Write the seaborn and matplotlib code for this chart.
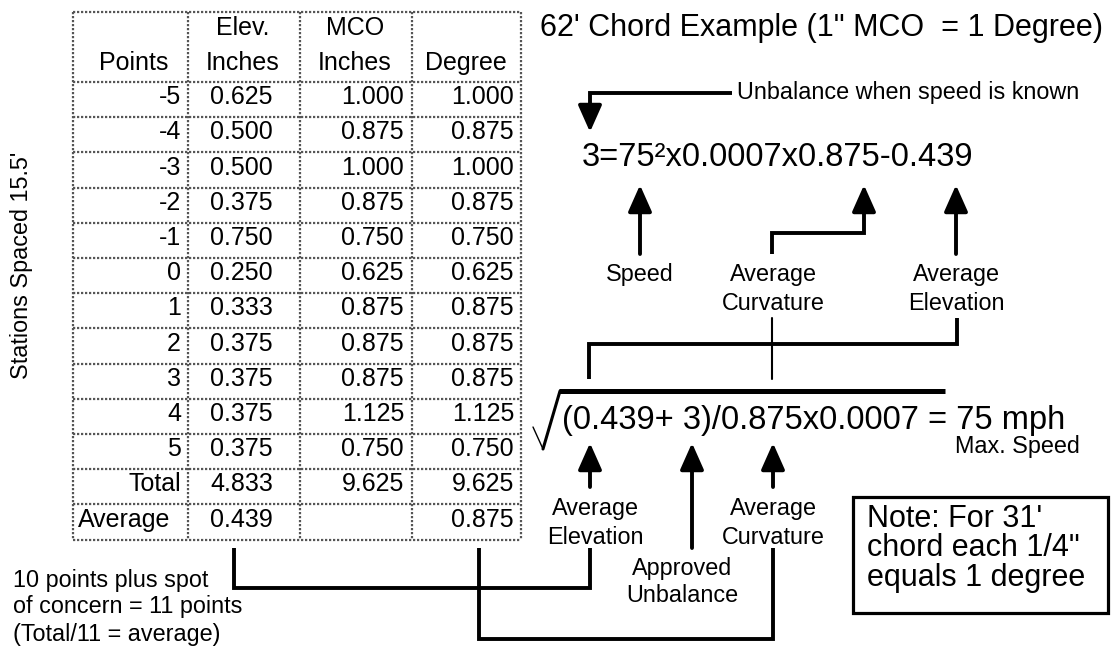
import matplotlib
matplotlib.use("Agg")
import matplotlib.pyplot as plt
import seaborn as sns
from matplotlib.patches import Rectangle

sns.set_theme(style="white")
plt.rcParams['font.family'] = ['Liberation Sans', 'DejaVu Sans']
plt.rcParams['text.color'] = 'black'

# datos de la tabla (cuerda de 62')
puntos = ["-5", "-4", "-3", "-2", "-1", "0", "1", "2", "3", "4", "5", "Total", "Average"]
elev = ["0.625", "0.500", "0.500", "0.375", "0.750", "0.250", "0.333",
        "0.375", "0.375", "0.375", "0.375", "4.833", "0.439"]
mco = ["1.000", "0.875", "1.000", "0.875", "0.750", "0.625", "0.875",
       "0.875", "0.875", "1.125", "0.750", "9.625", ""]
grados = ["1.000", "0.875", "1.000", "0.875", "0.750", "0.625", "0.875",
          "0.875", "0.875", "1.125", "0.750", "9.625", "0.875"]

fig = plt.figure(figsize=(11.12, 6.48), dpi=100)
ax = fig.add_axes([0, 0, 1, 1])
ax.set_xlim(0, 1112)
ax.set_ylim(648, 0)
ax.axis('off')

FS = 16.8   # textos chicos
FT = 18     # texto de la tabla
negro = 'black'

# tabla con bordes punteados
cols = [73, 188, 300, 412, 521]
top, head_bot, alto = 12, 82, 35.2
fondo = head_bot + alto * len(puntos)
borde = dict(color='#555555', lw=1.6, ls=(0, (1, 0.8)))
for x in cols:
    ax.plot([x, x], [top, fondo], **borde)
ax.plot([cols[0], cols[-1]], [top, top], **borde)
for i in range(len(puntos) + 1):
    y = head_bot + alto * i
    ax.plot([cols[0], cols[-1]], [y, y], **borde)

# encabezados
ax.text(168, 70, "Points", ha='right', va='baseline', fontsize=FT)
ax.text(243, 35, "Elev.", ha='center', va='baseline', fontsize=FT)
ax.text(243, 70, "Inches", ha='center', va='baseline', fontsize=FT)
ax.text(355, 35, "MCO", ha='center', va='baseline', fontsize=FT)
ax.text(355, 70, "Inches", ha='center', va='baseline', fontsize=FT)
ax.text(466, 70, "Degree", ha='center', va='baseline', fontsize=FT)

for i, p in enumerate(puntos):
    yb = head_bot + alto * (i + 1) - 13
    if p == "Average":
        ax.text(78, yb, p, ha='left', va='baseline', fontsize=FT)
    else:
        ax.text(181, yb, p, ha='right', va='baseline', fontsize=FT)
    ax.text(210, yb, elev[i], ha='left', va='baseline', fontsize=FT)
    ax.text(404, yb, mco[i], ha='right', va='baseline', fontsize=FT)
    ax.text(514, yb, grados[i], ha='right', va='baseline', fontsize=FT)

ax.text(22, 265, "Stations Spaced 15.5'", rotation=90, ha='center', va='center', fontsize=FS)

# titulo y formulas
ax.text(540, 28, "62' Chord Example (1\" MCO  = 1 Degree)", ha='left', va='center', fontsize=22)
ax.text(737, 93, "Unbalance when speed is known", ha='left', va='center', fontsize=FS)
ax.text(582, 158, "3=75²x0.0007x0.875-0.439", ha='left', va='center', fontsize=23.5)
ax.text(562, 421, "(0.439+ 3)/0.875x0.0007 = 75 mph", ha='left', va='center', fontsize=23.5)
ax.text(1080, 447, "Max. Speed", ha='right', va='center', fontsize=FS)

# etiquetas
ax.text(640, 275, "Speed", ha='center', va='center', fontsize=FS)
ax.text(773, 275, "Average", ha='center', va='center', fontsize=FS)
ax.text(773, 303, "Curvature", ha='center', va='center', fontsize=FS)
ax.text(956, 275, "Average", ha='center', va='center', fontsize=FS)
ax.text(956, 303, "Elevation", ha='center', va='center', fontsize=FS)
ax.text(595, 508, "Average", ha='center', va='center', fontsize=FS)
ax.text(595, 537, "Elevation", ha='center', va='center', fontsize=FS)
ax.text(682, 568, "Approved", ha='center', va='center', fontsize=FS)
ax.text(682, 596, "Unbalance", ha='center', va='center', fontsize=FS)
ax.text(773, 508, "Average", ha='center', va='center', fontsize=FS)
ax.text(773, 537, "Curvature", ha='center', va='center', fontsize=FS)

notas = ["10 points plus spot", "of concern = 11 points", "(Total/11 = average)"]
for y, t in zip([580, 607, 635], notas):
    ax.text(13, y, t, ha='left', va='center', fontsize=FS)

ax.add_patch(Rectangle((853, 497), 255, 116, fill=False, ec=negro, lw=2.3))
for y, t in zip([519, 548, 578], ["Note: For 31'", "chord each 1/4\"", "equals 1 degree"]):
    ax.text(867, y, t, ha='left', va='center', fontsize=22)

# flechas
def flecha(x, y0, y1):
    ax.annotate("", xy=(x, y1), xytext=(x, y0),
                arrowprops=dict(arrowstyle='-|>,head_length=1.35,head_width=0.6',
                                color=negro, lw=2.8, shrinkA=0, shrinkB=0))

grueso = dict(color=negro, lw=2.8, solid_capstyle='butt', solid_joinstyle='miter')
ax.plot([732, 590, 590], [93, 93, 118], **grueso)
flecha(590, 110, 132)
flecha(640, 254, 185)
ax.plot([772, 772, 864, 864], [254, 233, 233, 200], **grueso)
flecha(864, 205, 185)
flecha(956, 254, 185)

# corchete arriba de la raiz
ax.plot([589, 589, 957, 957], [379, 344, 344, 318], **grueso)
ax.plot([772, 772], [318, 379], color=negro, lw=1.5)

# raiz cuadrada
ax.plot([533, 543], [427, 449], color=negro, lw=1.0)
ax.plot([543, 560], [449, 391], color=negro, lw=2.2)
ax.plot([559, 945], [391, 391], color=negro, lw=3.6, solid_capstyle='butt')

flecha(590, 487, 443)
flecha(692, 548, 443)
flecha(773, 487, 443)

ax.plot([590, 590, 234, 234], [548, 588, 588, 548], **grueso)
ax.plot([773, 773, 479, 479], [548, 639, 639, 548], **grueso)

fig.savefig("out.png", dpi=100)
